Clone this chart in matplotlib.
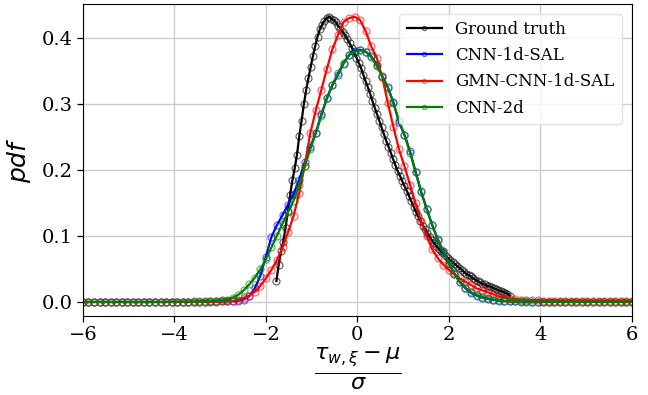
import numpy as np
import matplotlib
matplotlib.use("Agg")
import matplotlib.pyplot as plt

# Ground-truth pdf, sampled on its own support
gt_range = (-1.77, 3.33)
gt_pdf = [
    0.032, 0.057, 0.077, 0.092, 0.113, 0.138, 0.163, 0.185, 0.203, 0.224,
    0.252, 0.275, 0.300, 0.322, 0.340, 0.357, 0.374, 0.389, 0.403, 0.414,
    0.421, 0.427, 0.431, 0.433, 0.430, 0.428, 0.425, 0.419, 0.415, 0.410,
    0.405, 0.399, 0.393, 0.386, 0.379, 0.371, 0.363, 0.355, 0.345, 0.335,
    0.326, 0.316, 0.305, 0.295, 0.285, 0.275, 0.265, 0.255, 0.245, 0.236,
    0.227, 0.217, 0.208, 0.199, 0.192, 0.184, 0.176, 0.169, 0.161, 0.153,
    0.145, 0.137, 0.130, 0.123, 0.116, 0.111, 0.105, 0.099, 0.094, 0.089,
    0.085, 0.081, 0.077, 0.074, 0.070, 0.067, 0.064, 0.061, 0.058, 0.055,
    0.052, 0.049, 0.046, 0.043, 0.041, 0.039, 0.036, 0.034, 0.032, 0.030,
    0.028, 0.027, 0.025, 0.024, 0.023, 0.021, 0.020, 0.018, 0.017, 0.016,
    0.014, 0.013, 0.010,
]

# Model pdfs, sampled on a common grid over [-6, 6]
model_range = (-6.0, 6.0)
cnn1d_pdf = [
    0.0003, 0.0003, 0.0003, 0.0003, 0.0003, 0.0003, 0.0003, 0.0003, 0.0003, 0.0003,
    0.0003, 0.0003, 0.0003, 0.0003, 0.0003, 0.0005, 0.0005, 0.0005, 0.0005, 0.0005,
    0.0005, 0.0006, 0.0007, 0.0008, 0.0009, 0.0010, 0.0012, 0.0015, 0.0020, 0.0040,
    0.0090, 0.0210, 0.0400, 0.0690, 0.0990, 0.1170, 0.1320, 0.1480, 0.1640, 0.1860,
    0.2120, 0.2350, 0.2570, 0.2850, 0.3090, 0.3290, 0.3450, 0.3620, 0.3750, 0.3810,
    0.3830, 0.3800, 0.3730, 0.3600, 0.3430, 0.3260, 0.3030, 0.2730, 0.2540, 0.2290,
    0.1980, 0.1680, 0.1420, 0.1170, 0.0950, 0.0770, 0.0580, 0.0430, 0.0300, 0.0210,
    0.0140, 0.0100, 0.0070, 0.0050, 0.0035, 0.0025, 0.0018, 0.0013, 0.0010, 0.0009,
    0.0008, 0.0007, 0.0006, 0.0006, 0.0005, 0.0005, 0.0005, 0.0005, 0.0005, 0.0005,
    0.0005, 0.0005, 0.0005, 0.0005, 0.0005, 0.0005, 0.0005, 0.0005, 0.0005, 0.0005,
]
gmn_pdf = [
    0.0003, 0.0003, 0.0003, 0.0003, 0.0003, 0.0003, 0.0003, 0.0003, 0.0003, 0.0003,
    0.0003, 0.0003, 0.0003, 0.0003, 0.0003, 0.0005, 0.0005, 0.0005, 0.0005, 0.0005,
    0.0005, 0.0008, 0.0008, 0.0010, 0.0010, 0.0012, 0.0015, 0.0020, 0.0030, 0.0060,
    0.0100, 0.0160, 0.0250, 0.0360, 0.0490, 0.0640, 0.0830, 0.1060, 0.1310, 0.1650,
    0.2070, 0.2560, 0.2910, 0.3220, 0.3540, 0.3840, 0.4050, 0.4250, 0.4310, 0.4330,
    0.4280, 0.4110, 0.3880, 0.3710, 0.3410, 0.3020, 0.2660, 0.2320, 0.2060, 0.1780,
    0.1500, 0.1230, 0.1000, 0.0800, 0.0670, 0.0570, 0.0490, 0.0420, 0.0360, 0.0310,
    0.0260, 0.0210, 0.0180, 0.0150, 0.0120, 0.0090, 0.0070, 0.0055, 0.0045, 0.0035,
    0.0030, 0.0028, 0.0026, 0.0025, 0.0024, 0.0023, 0.0022, 0.0022, 0.0021, 0.0021,
    0.0020, 0.0020, 0.0020, 0.0019, 0.0019, 0.0019, 0.0018, 0.0018, 0.0018, 0.0018,
]
cnn2d_pdf = [
    0.0003, 0.0003, 0.0003, 0.0003, 0.0003, 0.0003, 0.0003, 0.0003, 0.0003, 0.0003,
    0.0003, 0.0003, 0.0003, 0.0003, 0.0003, 0.0005, 0.0006, 0.0007, 0.0008, 0.0009,
    0.0010, 0.0012, 0.0015, 0.0020, 0.0025, 0.0030, 0.0040, 0.0070, 0.0110, 0.0180,
    0.0270, 0.0370, 0.0500, 0.0650, 0.0830, 0.1010, 0.1190, 0.1370, 0.1540, 0.1770,
    0.2060, 0.2320, 0.2560, 0.2830, 0.3100, 0.3300, 0.3470, 0.3630, 0.3750, 0.3800,
    0.3820, 0.3800, 0.3720, 0.3580, 0.3420, 0.3250, 0.3020, 0.2760, 0.2530, 0.2270,
    0.1970, 0.1670, 0.1410, 0.1170, 0.0960, 0.0770, 0.0590, 0.0440, 0.0310, 0.0220,
    0.0150, 0.0110, 0.0080, 0.0060, 0.0040, 0.0030, 0.0020, 0.0016, 0.0013, 0.0011,
    0.0010, 0.0009, 0.0008, 0.0007, 0.0007, 0.0006, 0.0006, 0.0006, 0.0005, 0.0005,
    0.0005, 0.0005, 0.0005, 0.0005, 0.0005, 0.0005, 0.0005, 0.0005, 0.0005, 0.0005,
]

series_labels = ["Ground truth", "CNN-1d-SAL", "GMN-CNN-1d-SAL", "CNN-2d"]
series_colors = ["k", "b", "r", "g"]

x_ticks = [-6, -4, -2, 0, 2, 4, 6]
y_ticks = [0.0, 0.1, 0.2, 0.3, 0.4]

x_gt = np.linspace(gt_range[0], gt_range[1], len(gt_pdf))
x_model = np.linspace(model_range[0], model_range[1], len(gmn_pdf))

fig = plt.figure(figsize=(6.48, 3.95), dpi=100)
ax = fig.add_axes([0.128, 0.2, 0.847, 0.791])

curves = [
    (x_gt, gt_pdf),
    (x_model, cnn1d_pdf),
    (x_model, gmn_pdf),
    (x_model, cnn2d_pdf),
]
for (xs, ys), lab, col in zip(curves, series_labels, series_colors):
    ax.plot(xs, ys, color=col, lw=1.6, marker="o", ms=5, mfc="none",
            mew=0.9, markeredgecolor=matplotlib.colors.to_rgba(col, 0.6),
            label=lab)

ax.set_xlim(-6, 6)
ax.set_ylim(-0.021, 0.453)
ax.set_xticks(x_ticks)
ax.set_yticks(y_ticks)
ax.grid(True, color="#cccccc", lw=1.0)
ax.set_axisbelow(True)

for lab in ax.get_xticklabels() + ax.get_yticklabels():
    lab.set_fontfamily("DejaVu Serif")
    lab.set_fontsize(14)
ax.tick_params(direction="out", length=4, width=0.9)

ax.set_xlabel(r"$\frac{\tau_{w,\xi}-\mu}{\sigma}$", fontsize=23, labelpad=1)
ax.set_ylabel(r"$pdf$", fontsize=18, labelpad=6)

leg = ax.legend(loc="upper right", prop={"family": "DejaVu Serif", "size": 12},
                handlelength=2.1, markerscale=0.6, borderaxespad=0.6,
                labelspacing=0.55, borderpad=0.45)
leg.get_frame().set_edgecolor("#dddddd")

fig.savefig("out.png", dpi=100)
